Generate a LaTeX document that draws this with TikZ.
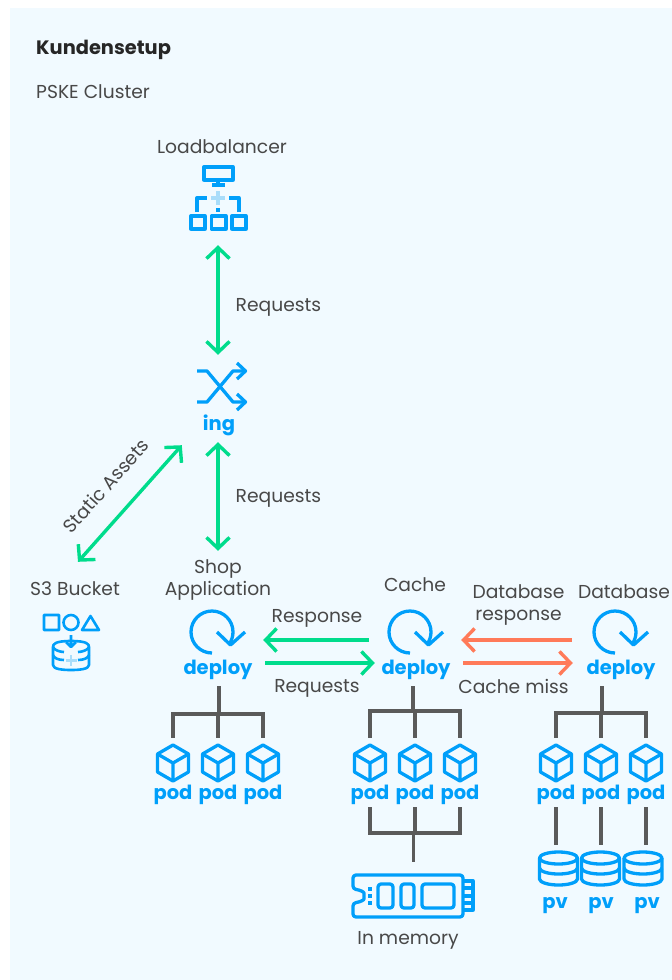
\documentclass[tikz,border=0pt]{standalone}
\usepackage{fontspec}
\setmainfont{Poppins}
\usetikzlibrary{arrows.meta,positioning}

\definecolor{panelblue}{HTML}{F1FAFF}
\definecolor{iconblue}{HTML}{009FFA}
\definecolor{lightplus}{HTML}{A9DDFA}
\definecolor{flowgreen}{HTML}{00DC8C}
\definecolor{floworange}{HTML}{FF7A59}
\definecolor{treegrey}{HTML}{5A5A5A}
\definecolor{textgrey}{HTML}{484848}

\tikzset{
    icon/.style={draw=iconblue, line width=3.3pt, line join=round},
    plusline/.style={draw=lightplus, line width=3.5pt},
    deployicon/.pic={
        \draw[icon] (0,21) arc[start angle=-90, end angle=-396, radius=21pt];
        \draw[icon] (5,0) -- (18.5,13) -- (33,0);
    },
    podicon/.pic={
        \draw[icon] (0,-18) -- (15.5,-9) -- (15.5,9) -- (0,18) -- (-15.5,9) -- (-15.5,-9) -- cycle;
        \draw[icon] (-15.5,-9) -- (0,0) -- (15.5,-9) (0,0) -- (0,18);
    },
    pvicon/.pic={
        \draw[icon] (0,-10) ellipse[x radius=19pt, y radius=6pt];
        \draw[icon] (-19,-10) -- (-19,11) arc[start angle=180, end angle=360, x radius=19pt, y radius=6pt] -- (19,-10);
        \draw[icon] (-19,0) arc[start angle=180, end angle=360, x radius=19pt, y radius=6pt];
    }
}

\begin{document}
\begin{tikzpicture}[x=1pt, y=-1pt,
    caption/.style={text=textgrey, inner sep=0pt, align=center, font=\fontsize{18.7}{22}\selectfont},
    kind/.style={text=iconblue, inner sep=0pt, font=\fontsize{19.5}{22}\selectfont\bfseries},
    iconbox/.style={minimum width=#1, inner sep=0pt},
    arrow/.style={->, >={Straight Barb[length=11pt, width=23pt]}, line width=3.4pt},
    both/.style={arrow, <->},
    treeline/.style={draw=treegrey, line width=3.2pt}]

    \useasboundingbox (0,0) rectangle (672,980);
    \fill[panelblue] (10,8) rectangle (672,980);

    % Titles
    \node[caption, anchor=west, text=black!85, font=\fontsize{19.4}{22}\selectfont\bfseries] (title) at (36,50) {Kundensetup};
    \node[caption, anchor=west] (cluster) at (36,92) {PSKE Cluster};

    % Loadbalancer
    \node[caption] (lbtext) at (222,147) {Loadbalancer};
    \node[iconbox=60pt, minimum height=90pt] (lb) at (218,200) {};
    \draw[plusline] (218,191) -- (218,205) (211,198) -- (225,198);
    \draw[icon] (204,167) rectangle (233,180) (218,180) -- (218,185) (212,185) -- (225,185);
    \draw[icon] (197,212) -- (197,198) -- (207,198) (239,212) -- (239,198) -- (229,198);
    \fill[iconblue] (216,208) rectangle (220,212);
    \draw[icon] (191,216) rectangle (205,229) (211.5,216) rectangle (226,229) (232,216) rectangle (246,229);

    % Ingress
    \node[iconbox=72pt, minimum height=90pt] (ing) at (218,400) {};
    \draw[icon] (197,371) -- (207,371) -- (233,402) -- (245,402);
    \draw[icon] (197,402) -- (207,402) -- (233,371) -- (245,371);
    \draw[icon] (237,363) -- (245.5,371) -- (237,379) (237,394) -- (245.5,402) -- (237,410);
    \node[kind] (ingtext) at (219,425) {ing};

    % S3 Bucket
    \node[caption] (s3text) at (75,589) {S3 Bucket};
    \node[iconbox=60pt, minimum height=116pt] (s3) at (75,620) {};
    \draw[icon, line width=2.6pt] (44,615) rectangle (59,630) (71,622.5) circle[radius=7.5pt] (82,630) -- (99,630) -- (90.5,616) -- cycle;
    \draw[icon, line width=2.6pt] (71,635) -- (71,647) (66,642) -- (71,647) -- (76,642);
    \draw[icon, line width=2.6pt] (71,641) .. controls (55,641) and (53,644) .. (53,647) -- (53,665)
        .. controls (53,669) and (62,670) .. (71,670) .. controls (80,670) and (89,669) .. (89,665) -- (89,647)
        .. controls (89,644) and (87,641) .. (71,641);
    \draw[icon, line width=2.6pt] (53,647) .. controls (54,650) and (60,652) .. (64,652) (89,647) .. controls (88,650) and (82,652) .. (78,652);
    \draw[icon, line width=2.6pt] (53,655) .. controls (54,658) and (58,660) .. (64,660) (89,655) .. controls (88,658) and (84,660) .. (78,660);
    \draw[plusline, line width=2.6pt] (71,655) -- (71,666) (65.5,660.5) -- (76.5,660.5);

    % Deployments
    \node[caption, minimum height=58pt] (shop) at (218,580) {Shop\\Application};
    \node[caption] (cachetext) at (415,585) {Cache};
    \node[caption] (dbtext) at (624,592) {Database};
    \foreach \name/\x in {shop/218, cache/416, db/621} {
        \pic at (\x-6,632) {deployicon};
        \node[kind, iconbox=90pt, minimum height=32pt] (\name deploy) at (\x,670) {deploy};
    }

    % Pods with their tree
    \foreach \name/\bx/\by/\xa/\xb/\xc in {shop/219/714/173/218/263, cache/413/711/370/415/460, db/602/713/556/601/646} {
        \coordinate (\name bus) at (\bx,\by);
        \foreach \i/\x in {1/\xa, 2/\xb, 3/\xc} {
            \pic at (\x,763) {podicon};
            \node[iconbox=34pt, minimum height=50pt] (\name pod\i) at (\x,763) {};
            \node[kind, iconbox=40pt, minimum height=24pt] (\name podtext\i) at (\x,795) {pod};
        }
        \draw[treeline] (\name bus |- \name deploy.south) -- (\name bus);
        \draw[treeline] (\name pod1.north) |- (\name bus);
        \draw[treeline] (\name pod2.north) -- (\name pod2.north |- \name bus);
        \draw[treeline] (\name pod3.north) |- (\name bus);
    }

    % In memory
    \node[iconbox=110pt, minimum height=68pt] (mem) at (413,896) {};
    \coordinate (membus) at (413.5,833);
    \draw[treeline] (cachepodtext1.south) |- (membus);
    \draw[treeline] (cachepodtext3.south) |- (membus);
    \draw[treeline] (cachepodtext2.south) -- (cachepodtext2.south |- membus);
    \draw[treeline] (membus) -- (mem.north -| membus);
    \draw[icon, rounded corners=3pt] (353,875) -- (463,875) -- (463,917) -- (353,917) -- (353,903)
        .. controls (360,902) and (364,900) .. (364,896) .. controls (364,892) and (360,890) .. (353,889) -- cycle;
    \draw[icon] (463,881) -- (473,881) -- (473,910) -- (463,910) (463,888) -- (473,888) (463,896) -- (473,896) (463,903) -- (473,903);
    \draw[icon] (368,889) -- (372,889) (368,896) -- (372,896) (368,903) -- (372,903);
    \draw[icon, rounded corners=3pt] (378,884) rectangle (393,908) (401,884) rectangle (414,908) (422,884) rectangle (454,908);
    \node[caption] (memtext) at (408,940) {In memory};

    % Persistent volumes
    \foreach \i/\x/\tx in {1/558.5/555, 2/600.5/601, 3/643/647} {
        \pic at (\x,868) {pvicon};
        \node[iconbox=40pt, minimum height=46pt] (pv\i) at (\x,868) {};
        \node[kind] (pvtext\i) at (\tx,906) {pv};
        \draw[treeline] (dbpodtext\i.south) -- (dbpodtext\i.south |- pv\i.north);
    }

    % Requests and responses
    \draw[both, flowgreen] (lb) -- (ing) node[pos=0.57, right=16pt, caption] (reqa) {Requests};
    \draw[both, flowgreen, shorten <=-3pt] (ing) -- (shop) node[midway, right=16pt, caption] (reqb) {Requests};
    \draw[both, flowgreen] (ing.south west) -- ([xshift=3pt]s3.north) node[midway, caption, rotate=48, xshift=-3pt, yshift=30pt] (assets) {Static Assets};

    \draw[arrow, flowgreen, shorten <=2pt] ([yshift=30pt]cachedeploy.west) -- ([yshift=30pt]shopdeploy.east) node[midway, above=11pt, caption] (resp) {Response};
    \draw[arrow, flowgreen, shorten >=-4pt, shorten <=2pt] ([yshift=7pt]shopdeploy.east) -- ([yshift=7pt]cachedeploy.west) node[midway, below=15pt, caption] (req) {Requests};
    \draw[arrow, floworange, shorten <=4pt] ([yshift=30pt]dbdeploy.west) -- ([yshift=30pt]cachedeploy.east) node[midway, above=13pt, caption] (dbresp) {Database\\response};
    \draw[arrow, floworange, shorten <=2pt, shorten >=3pt] ([yshift=7pt]cachedeploy.east) -- ([yshift=7pt]dbdeploy.west) node[midway, below=15pt, xshift=-5pt, caption] (miss) {Cache miss};
\end{tikzpicture}
\end{document}
